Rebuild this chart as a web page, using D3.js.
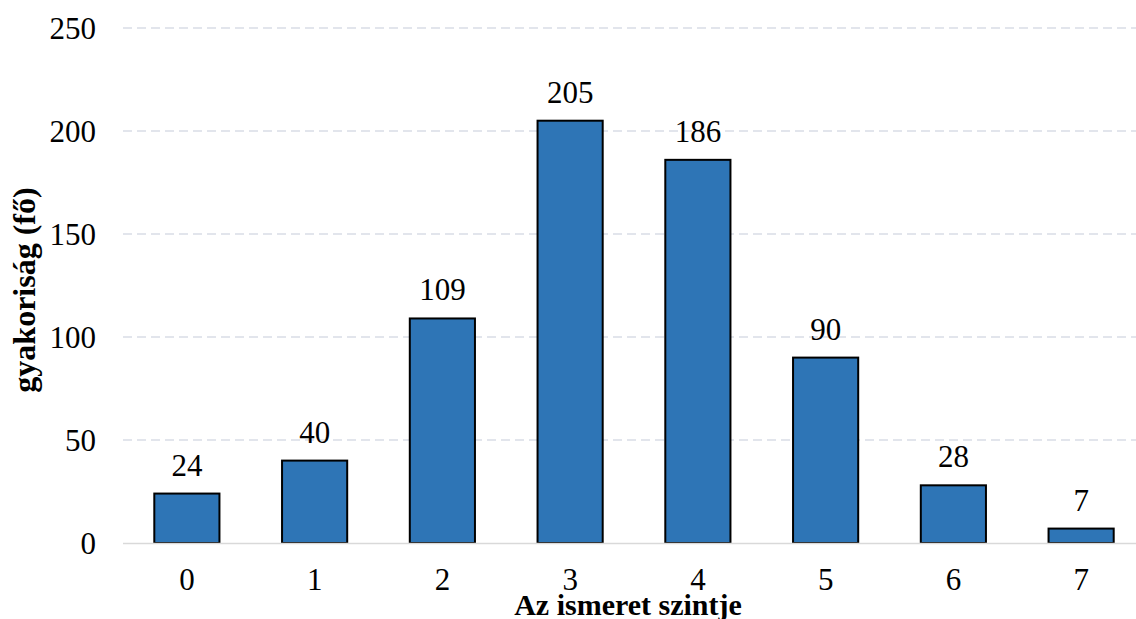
<!DOCTYPE html>
<html>
<head>
<meta charset="utf-8">
<script src="https://cdn.jsdelivr.net/npm/d3@7"></script>
<style>
  html, body { margin: 0; padding: 0; background: #fff; }
  svg { display: block; }
  text { font-family: "Liberation Serif", "Times New Roman", serif; fill: #000; }
</style>
</head>
<body>
<svg id="chart" width="1136" height="619"></svg>
<script>
// Knowledge level categories and respondent counts
const categories = ["0", "1", "2", "3", "4", "5", "6", "7"];
const counts = [24, 40, 109, 205, 186, 90, 28, 7];
const yTicks = [0, 50, 100, 150, 200, 250];

const svg = d3.select("#chart");
const plotLeft = 123, plotRight = 1145, plotTop = 28, plotBottom = 543;

const x = d3.scaleBand().domain(categories).range([plotLeft, plotRight]).paddingInner(0.49).paddingOuter(0.245);
const y = d3.scaleLinear().domain([0, 250]).range([plotBottom, plotTop]);

// Dashed horizontal gridlines
svg.append("g").selectAll("line")
  .data(yTicks.filter(d => d > 0))
  .join("line")
  .attr("x1", plotLeft).attr("x2", 1136)
  .attr("y1", d => y(d)).attr("y2", d => y(d))
  .attr("stroke", "#d9dde6").attr("stroke-width", 1.5)
  .attr("stroke-dasharray", "9,5");

// Y axis tick labels
const yAxis = svg.append("g")
  .attr("transform", `translate(${plotLeft - 27},0)`)
  .call(d3.axisLeft(y).tickValues(yTicks).tickSize(0).tickPadding(0));
yAxis.select(".domain").remove();
yAxis.selectAll("text")
  .attr("font-size", 31)
  .attr("font-family", "Liberation Serif, Times New Roman, serif")
  .attr("dy", "0.34em");

// Bars
svg.append("g").selectAll("rect")
  .data(counts)
  .join("rect")
  .attr("x", (d, i) => x(categories[i]))
  .attr("y", d => y(d))
  .attr("width", x.bandwidth())
  .attr("height", d => y(0) - y(d))
  .attr("fill", "#2e75b6")
  .attr("stroke", "#000")
  .attr("stroke-width", 2);

// Baseline
svg.append("line")
  .attr("x1", plotLeft).attr("x2", 1136)
  .attr("y1", y(0) + 0.5).attr("y2", y(0) + 0.5)
  .attr("stroke", "#d9d9d9").attr("stroke-width", 1.5);

// Value labels above bars
svg.append("g").selectAll("text")
  .data(counts)
  .join("text")
  .attr("x", (d, i) => x(categories[i]) + x.bandwidth() / 2)
  .attr("y", d => y(d) - 18)
  .attr("text-anchor", "middle")
  .attr("font-size", 31)
  .text(d => d);

// X axis tick labels
const xAxis = svg.append("g")
  .attr("transform", `translate(0,${plotBottom})`)
  .call(d3.axisBottom(x).tickSize(0).tickPadding(0));
xAxis.select(".domain").remove();
xAxis.selectAll("text")
  .attr("font-size", 31)
  .attr("font-family", "Liberation Serif, Times New Roman, serif")
  .attr("dy", "1.52em");

// Axis titles
svg.append("text")
  .attr("x", 628).attr("y", 615)
  .attr("text-anchor", "middle")
  .attr("font-size", 30).attr("font-weight", "bold")
  .text("Az ismeret szintje");

svg.append("text")
  .attr("transform", `translate(35,290) rotate(-90)`)
  .attr("text-anchor", "middle")
  .attr("font-size", 32).attr("font-weight", "bold")
  .text("gyakoriság (fő)");
</script>
</body>
</html>
